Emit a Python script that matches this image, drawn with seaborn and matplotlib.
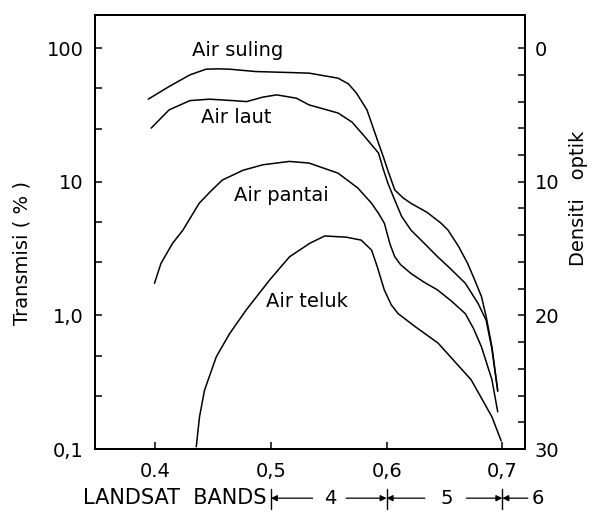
import numpy as np
import pandas as pd
import matplotlib
matplotlib.use("Agg")
import matplotlib.pyplot as plt
import matplotlib.transforms as mtransforms
from matplotlib.ticker import FixedLocator, NullFormatter, NullLocator
import seaborn as sns

# --- data (wavelength in um, transmission in %) ---
suling_x = [0.394, 0.412, 0.430, 0.444, 0.454, 0.464, 0.487, 0.516, 0.533, 0.558, 0.567, 0.574,
            0.583, 0.593, 0.597, 0.601, 0.607, 0.614, 0.621, 0.635, 0.647, 0.653, 0.662,
            0.670, 0.676, 0.682, 0.686, 0.691, 0.696]
suling_t = [41.5, 51.6, 63.1, 69.6, 70.0, 69.6, 66.8, 65.7, 65.0, 59.6, 54.0, 46.0,
            34.5, 19.4, 15.5, 12.2, 8.7, 7.6, 6.9, 5.9, 4.9, 4.35, 3.3,
            2.45, 1.85, 1.38, 0.98, 0.58, 0.275]

laut_x = [0.3965, 0.412, 0.430, 0.447, 0.467, 0.479, 0.493, 0.505, 0.522, 0.533, 0.558, 0.570,
          0.581, 0.593, 0.597, 0.601, 0.607, 0.613, 0.621, 0.632, 0.644, 0.656, 0.668, 0.679,
          0.686, 0.691, 0.696]
laut_t = [25.2, 34.5, 40.5, 41.5, 40.5, 39.8, 43.0, 44.7, 42.2, 37.6, 32.7, 28.0,
          21.8, 16.4, 12.5, 9.8, 7.3, 5.5, 4.35, 3.5, 2.75, 2.2, 1.74, 1.23,
          0.92, 0.56, 0.27]

pantai_x = [0.3994, 0.405, 0.415, 0.424, 0.438, 0.448, 0.458, 0.476, 0.493, 0.516, 0.533, 0.558,
            0.575, 0.587, 0.593, 0.598, 0.603, 0.607, 0.612, 0.621, 0.632, 0.644, 0.656, 0.668,
            0.675, 0.682, 0.691, 0.696]
pantai_t = [1.74, 2.45, 3.46, 4.35, 6.9, 8.5, 10.3, 12.2, 13.4, 14.2, 13.8, 11.6,
            9.0, 6.9, 5.8, 4.9, 3.4, 2.75, 2.4, 2.06, 1.78, 1.55, 1.28, 1.03,
            0.8, 0.58, 0.33, 0.19]

teluk_x = [0.4355, 0.4383, 0.4426, 0.4528, 0.4643, 0.4787, 0.4989, 0.5075, 0.5162, 0.5335, 0.5465,
           0.565, 0.578, 0.587, 0.592, 0.598, 0.604, 0.610, 0.625, 0.6445, 0.660, 0.673, 0.682,
           0.691, 0.699]
teluk_t = [0.104, 0.174, 0.275, 0.49, 0.73, 1.10, 1.84, 2.25, 2.75, 3.46, 3.93,
           3.85, 3.66, 3.08, 2.3, 1.55, 1.2, 1.03, 0.82, 0.62, 0.44, 0.33, 0.24,
           0.174, 0.115]

curve_names = ["Air suling", "Air laut", "Air pantai", "Air teluk"]
label_x = [0.471, 0.470, 0.509, 0.531]
label_t = [96, 30.4, 7.9, 1.28]

x_ticks = [0.4, 0.5, 0.6, 0.7]
x_tick_labels = ["0.4", "0,5", "0,6", "0,7"]
y_ticks = [0.1, 1, 10, 100]
y_tick_labels = ["0,1", "1,0", "10", "100"]
y_minor = [0.25, 0.5, 2.5, 5, 25, 50]
density_ticks = [0, 10, 20, 30]
density_minor = [2, 4, 6, 8, 12, 14, 16, 18, 22, 24, 26, 28]
band_edges = [0.5, 0.6, 0.7]
band_names = ["4", "5", "6"]

# --- build long table ---
frames = []
for name, xs, ts in zip(curve_names,
                        [suling_x, laut_x, pantai_x, teluk_x],
                        [suling_t, laut_t, pantai_t, teluk_t]):
    frames.append(pd.DataFrame({"air": name, "wavelength": xs, "transmisi": ts}))
df = pd.concat(frames, ignore_index=True)

sns.set_theme(style="ticks")
plt.rcParams["font.family"] = ["DejaVu Sans"]
plt.rcParams["text.color"] = "black"
plt.rcParams["xtick.color"] = "black"
plt.rcParams["ytick.color"] = "black"
FS = 14

fig = plt.figure(figsize=(6.11, 5.12), dpi=100)
ax = fig.add_axes([0.1555, 0.1230, 0.7038, 0.8477])

sns.lineplot(data=df, x="wavelength", y="transmisi", units="air", estimator=None,
             color="black", linewidth=1.1, ax=ax)

ax.set_yscale("log")
ymin, ymax = 0.1, 177
ax.set_xlim(0.348, 0.7196)
ax.set_ylim(ymin, ymax)

for name, lx, lt in zip(curve_names, label_x, label_t):
    ax.text(lx, lt, name, ha="center", va="center", fontsize=FS, color="black")

ax.set_xticks(x_ticks)
ax.set_xticklabels(x_tick_labels)
ax.xaxis.set_minor_locator(NullLocator())
ax.set_yticks(y_ticks)
ax.set_yticklabels(y_tick_labels)
ax.yaxis.set_minor_locator(FixedLocator(y_minor))
ax.yaxis.set_minor_formatter(NullFormatter())
ax.tick_params(which="both", direction="in", length=5, width=1.1, labelsize=FS,
               colors="black", top=False, right=False)
ax.tick_params(axis="y", pad=8)
ax.tick_params(axis="x", pad=9)
ax.set_xlabel("")
ax.set_ylabel("")
for sp in ax.spines.values():
    sp.set_visible(True)
    sp.set_linewidth(1.4)
    sp.set_color("black")

# right axis: optical density
ax2 = ax.twinx()
ax2.set_ylim(20 - 10 * np.log10(ymin), 20 - 10 * np.log10(ymax))
ax2.set_yticks(density_ticks)
ax2.set_yticklabels([str(d) for d in density_ticks])
ax2.yaxis.set_minor_locator(FixedLocator(density_minor))
ax2.tick_params(which="both", direction="in", length=5, width=1.1, labelsize=FS,
                pad=7, colors="black")
for sp in ax2.spines.values():
    sp.set_linewidth(1.4)
    sp.set_color("black")

fig.text(0.036, 0.506, "Transmisi ( % )", rotation=90, ha="center", va="center",
         fontsize=FS, color="black")
fig.text(0.946, 0.613, "Densiti   optik", rotation=90, ha="center", va="center",
         fontsize=FS, color="black")

# LANDSAT bands row
blend = mtransforms.blended_transform_factory(ax.transData, fig.transFigure)
yb = 0.027
ax.text(0.496, yb, "LANDSAT  BANDS", transform=blend, ha="right", va="center",
        fontsize=15, color="black")
for xe in band_edges:
    ax.plot([xe, xe], [0.005, 0.045], transform=blend, color="black", lw=1.0, clip_on=False)

arrow_kw = dict(arrowstyle="-|>", color="black", lw=0.9, shrinkA=0, shrinkB=0, mutation_scale=9)
segments = [(0.536, 0.5), (0.565, 0.6), (0.633, 0.6), (0.669, 0.7), (0.722, 0.7)]
for tail, head in segments:
    ax.annotate("", xy=(head, yb), xytext=(tail, yb), xycoords=blend, textcoords=blend,
                arrowprops=arrow_kw, annotation_clip=False)
for xc, nm in zip([0.551, 0.652, 0.731], band_names):
    ax.text(xc, yb, nm, transform=blend, ha="center", va="center", fontsize=FS, color="black")

fig.savefig("out.png", dpi=100, facecolor="white")
